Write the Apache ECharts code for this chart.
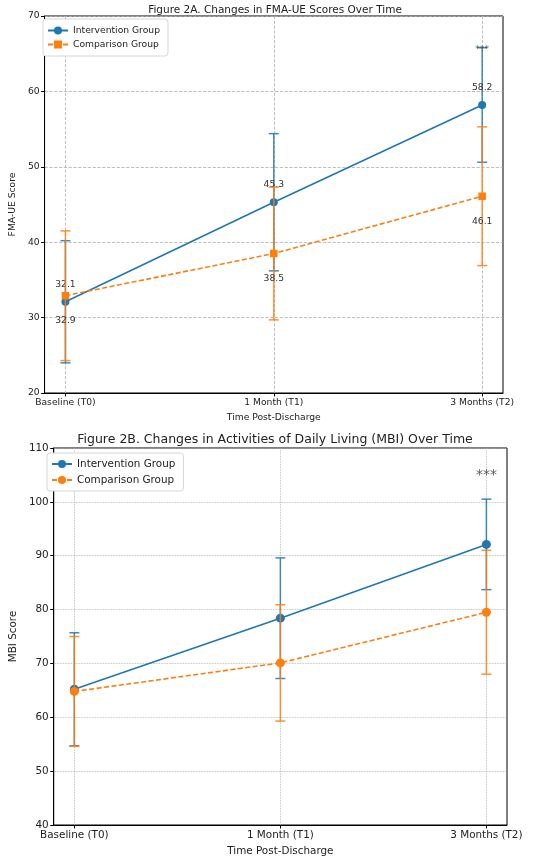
<!DOCTYPE html>
<html>
<head>
<meta charset="utf-8">
<script src="https://cdn.jsdelivr.net/npm/echarts@6/dist/echarts.min.js"></script>
<style>
  html, body { margin: 0; padding: 0; background: #fff; }
  #chart { width: 553px; height: 861px; }
</style>
</head>
<body>
<div id="chart"></div>
<script>
const TIME_LABELS = ['Baseline (T0)', '1 Month (T1)', '3 Months (T2)'];
const TIME_POS = [0, 1, 2];

// Figure 2A - FMA-UE
const FMA_INT_MEAN = [32.1, 45.3, 58.2];
const FMA_INT_SD = [8.1, 9.1, 7.6];
const FMA_CMP_MEAN = [32.9, 38.5, 46.1];
const FMA_CMP_SD = [8.6, 8.8, 9.2];
const FMA_SIG = [[2, 65.5]];

// Figure 2B - MBI
const MBI_INT_MEAN = [65.2, 78.4, 92.1];
const MBI_INT_SD = [10.5, 11.2, 8.4];
const MBI_CMP_MEAN = [64.8, 70.1, 79.5];
const MBI_CMP_SD = [10.2, 10.8, 11.5];
const MBI_SIG = [[2, 105]];

const BLUE = '#1f77b4';
const ORANGE = '#ff7f0e';
const FONT = 'DejaVu Sans';

function points(mean) {
  return mean.map((v, i) => [TIME_POS[i], v]);
}

function errRows(mean, sd) {
  return mean.map((v, i) => [TIME_POS[i], v - sd[i], v + sd[i]]);
}

function errorBars(name, mean, sd, color, idx, z) {
  return {
    name: name,
    type: 'custom',
    xAxisIndex: idx,
    yAxisIndex: idx,
    silent: true,
    z: z,
    data: errRows(mean, sd),
    renderItem: function(params, api) {
      var x = api.value(0);
      var hi = api.coord([x, api.value(2)]);
      var lo = api.coord([x, api.value(1)]);
      var w = 5;
      var st = { stroke: color, lineWidth: 1.5, opacity: 0.85 };
      return {
        type: 'group',
        children: [
          { type: 'line', shape: { x1: hi[0], y1: hi[1], x2: lo[0], y2: lo[1] }, style: st },
          { type: 'line', shape: { x1: hi[0] - w, y1: hi[1], x2: hi[0] + w, y2: hi[1] }, style: st },
          { type: 'line', shape: { x1: lo[0] - w, y1: lo[1], x2: lo[0] + w, y2: lo[1] }, style: st }
        ]
      };
    }
  };
}

function meanLine(name, mean, color, idx, opts) {
  return {
    name: name,
    type: 'line',
    xAxisIndex: idx,
    yAxisIndex: idx,
    data: points(mean),
    symbol: opts.symbol,
    symbolSize: opts.symbolSize,
    z: opts.z,
    lineStyle: { color: color, width: 1.6, type: opts.dashed ? [5, 2.5] : 'solid' },
    itemStyle: { color: color },
    label: opts.label || { show: false },
    animation: false
  };
}

function valueLabel(pos, dist, size) {
  return {
    show: true,
    position: pos,
    distance: dist,
    fontFamily: FONT,
    fontSize: size,
    color: '#333',
    formatter: p => p.value[1].toFixed(1)
  };
}

function sigSeries(name, data, idx, size) {
  return {
    name: name,
    type: 'scatter',
    xAxisIndex: idx,
    yAxisIndex: idx,
    data: data,
    symbolSize: 1,
    itemStyle: { color: 'rgba(0,0,0,0)' },
    silent: true,
    z: 10,
    label: {
      show: true,
      position: 'inside',
      formatter: '***',
      fontFamily: FONT,
      fontSize: size,
      color: '#333'
    }
  };
}

function timeAxis(idx, size, gap, gridType) {
  return {
    type: 'value',
    gridIndex: idx,
    min: -0.1,
    max: 2.1,
    name: 'Time Post-Discharge',
    nameLocation: 'middle',
    nameGap: gap,
    nameTextStyle: { fontFamily: FONT, fontSize: size, color: '#222' },
    axisLine: { show: true, onZero: false, lineStyle: { color: '#000', width: 1 } },
    axisTick: { show: true, customValues: TIME_POS, length: 3.5, lineStyle: { color: '#000' } },
    axisLabel: {
      customValues: TIME_POS,
      formatter: v => TIME_LABELS[Math.round(v)],
      fontFamily: FONT, fontSize: size, color: '#222', margin: 5
    },
    splitLine: { show: true, lineStyle: { color: '#b0b0b0', width: 0.8, type: gridType } }
  };
}

function scoreAxis(idx, name, min, max, size, gap, gridType) {
  return {
    type: 'value',
    gridIndex: idx,
    min: min,
    max: max,
    interval: 10,
    name: name,
    nameLocation: 'middle',
    nameGap: gap,
    nameTextStyle: { fontFamily: FONT, fontSize: size, color: '#222' },
    axisLine: { show: true, onZero: false, lineStyle: { color: '#000', width: 1 } },
    axisTick: { show: true, length: 3.5, lineStyle: { color: '#000' } },
    axisLabel: { fontFamily: FONT, fontSize: size, color: '#222', margin: 5 },
    splitLine: { show: true, lineStyle: { color: '#b0b0b0', width: 0.8, type: gridType } }
  };
}

function legendBox(names, left, top, size, gap, pad) {
  return {
    data: names,
    orient: 'vertical',
    left: left,
    top: top,
    itemWidth: 20,
    itemHeight: 10,
    itemGap: gap,
    padding: pad,
    borderColor: '#d6d6d6',
    borderWidth: 1,
    borderRadius: 3,
    backgroundColor: '#fff',
    selectedMode: false,
    textStyle: { fontFamily: FONT, fontSize: size, color: '#222' },
    formatter: n => (n.indexOf('Int') > 0 ? 'Intervention Group' : 'Comparison Group')
  };
}

var chart = echarts.init(document.getElementById('chart'));

chart.setOption({
  animation: false,
  title: [
    {
      text: 'Figure 2A. Changes in FMA-UE Scores Over Time',
      left: 270, top: 0, textAlign: 'center',
      textStyle: { fontFamily: FONT, fontSize: 10.5, fontWeight: 'normal', color: '#222' }
    },
    {
      text: 'Figure 2B. Changes in Activities of Daily Living (MBI) Over Time',
      left: 270, top: 428, textAlign: 'center',
      textStyle: { fontFamily: FONT, fontSize: 12.5, fontWeight: 'normal', color: '#222' }
    }
  ],
  legend: [
    legendBox(['fmaInt', 'fmaCmp'], 43, 19, 9.2, 5, [7, 8, 7, 4]),
    legendBox(['mbiInt', 'mbiCmp'], 47, 453, 10.4, 6, [6, 8, 6, 4])
  ],
  grid: [
    { left: 38, top: 16, width: 465, height: 377, show: true, borderColor: '#000', borderWidth: 1 },
    { left: 42, top: 448, width: 465, height: 377, show: true, borderColor: '#000', borderWidth: 1 }
  ],
  xAxis: [
    timeAxis(0, 9.2, 20, 'dashed'),
    timeAxis(1, 10.4, 21, 'dotted')
  ],
  yAxis: [
    scoreAxis(0, 'FMA-UE Score', 20, 70, 9.2, 20, 'dashed'),
    scoreAxis(1, 'MBI Score', 40, 110, 10.4, 30, 'dotted')
  ],
  series: [
    errorBars('fmaIntErr', FMA_INT_MEAN, FMA_INT_SD, BLUE, 0, 2),
    meanLine('fmaInt', FMA_INT_MEAN, BLUE, 0,
      { symbol: 'circle', symbolSize: 8, z: 3, label: valueLabel('top', 9, 9.2) }),
    errorBars('fmaCmpErr', FMA_CMP_MEAN, FMA_CMP_SD, ORANGE, 0, 4),
    meanLine('fmaCmp', FMA_CMP_MEAN, ORANGE, 0,
      { symbol: 'rect', symbolSize: 7.5, z: 5, dashed: true, label: valueLabel('bottom', 17, 9.2) }),
    sigSeries('fmaSig', FMA_SIG, 0, 9.2),

    errorBars('mbiIntErr', MBI_INT_MEAN, MBI_INT_SD, BLUE, 1, 2),
    meanLine('mbiInt', MBI_INT_MEAN, BLUE, 1, { symbol: 'circle', symbolSize: 9, z: 3 }),
    errorBars('mbiCmpErr', MBI_CMP_MEAN, MBI_CMP_SD, ORANGE, 1, 4),
    meanLine('mbiCmp', MBI_CMP_MEAN, ORANGE, 1, { symbol: 'circle', symbolSize: 9, z: 5, dashed: true }),
    sigSeries('mbiSig', MBI_SIG, 1, 14)
  ]
});
</script>
</body>
</html>
